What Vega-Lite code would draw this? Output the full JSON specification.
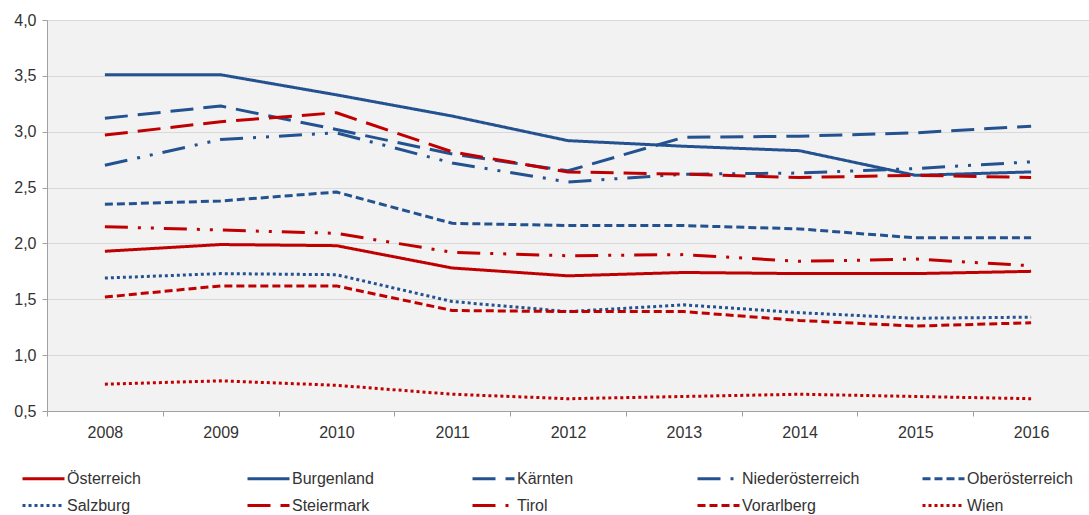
{
  "$schema": "https://vega.github.io/schema/vega-lite/v6.json",
  "width": 1042,
  "height": 391,
  "autosize": {"type": "none"},
  "padding": {"left": 47, "top": 20, "right": 0, "bottom": 104},
  "background": "white",
  "config": {
    "font": "Liberation Sans",
    "view": {"fill": "#F2F2F2", "stroke": null},
    "legend": {
      "orient": "none",
      "legendX": -12,
      "legendY": 450,
      "direction": "horizontal",
      "columns": 5,
      "gridAlign": "all",
      "columnPadding": 56,
      "rowPadding": 10,
      "symbolType": "M-3,0H3",
      "symbolSize": 196,
      "symbolStrokeWidth": 3,
      "labelFontSize": 16,
      "labelColor": "#333333",
      "labelOffset": 15,
      "labelFont": "Liberation Sans"
    }
  },
  "data": {
    "values": [
      {"Jahr": "2008", "Region": "Österreich", "Wert": 1.93},
      {"Jahr": "2009", "Region": "Österreich", "Wert": 1.99},
      {"Jahr": "2010", "Region": "Österreich", "Wert": 1.98},
      {"Jahr": "2011", "Region": "Österreich", "Wert": 1.78},
      {"Jahr": "2012", "Region": "Österreich", "Wert": 1.71},
      {"Jahr": "2013", "Region": "Österreich", "Wert": 1.74},
      {"Jahr": "2014", "Region": "Österreich", "Wert": 1.73},
      {"Jahr": "2015", "Region": "Österreich", "Wert": 1.73},
      {"Jahr": "2016", "Region": "Österreich", "Wert": 1.75},
      {"Jahr": "2008", "Region": "Burgenland", "Wert": 3.51},
      {"Jahr": "2009", "Region": "Burgenland", "Wert": 3.51},
      {"Jahr": "2010", "Region": "Burgenland", "Wert": 3.33},
      {"Jahr": "2011", "Region": "Burgenland", "Wert": 3.14},
      {"Jahr": "2012", "Region": "Burgenland", "Wert": 2.92},
      {"Jahr": "2013", "Region": "Burgenland", "Wert": 2.87},
      {"Jahr": "2014", "Region": "Burgenland", "Wert": 2.83},
      {"Jahr": "2015", "Region": "Burgenland", "Wert": 2.61},
      {"Jahr": "2016", "Region": "Burgenland", "Wert": 2.64},
      {"Jahr": "2008", "Region": "Kärnten", "Wert": 3.12},
      {"Jahr": "2009", "Region": "Kärnten", "Wert": 3.23},
      {"Jahr": "2010", "Region": "Kärnten", "Wert": 3.02},
      {"Jahr": "2011", "Region": "Kärnten", "Wert": 2.8},
      {"Jahr": "2012", "Region": "Kärnten", "Wert": 2.65},
      {"Jahr": "2013", "Region": "Kärnten", "Wert": 2.95},
      {"Jahr": "2014", "Region": "Kärnten", "Wert": 2.96},
      {"Jahr": "2015", "Region": "Kärnten", "Wert": 2.99},
      {"Jahr": "2016", "Region": "Kärnten", "Wert": 3.05},
      {"Jahr": "2008", "Region": "Niederösterreich", "Wert": 2.7},
      {"Jahr": "2009", "Region": "Niederösterreich", "Wert": 2.93},
      {"Jahr": "2010", "Region": "Niederösterreich", "Wert": 2.99},
      {"Jahr": "2011", "Region": "Niederösterreich", "Wert": 2.72},
      {"Jahr": "2012", "Region": "Niederösterreich", "Wert": 2.55},
      {"Jahr": "2013", "Region": "Niederösterreich", "Wert": 2.62},
      {"Jahr": "2014", "Region": "Niederösterreich", "Wert": 2.63},
      {"Jahr": "2015", "Region": "Niederösterreich", "Wert": 2.67},
      {"Jahr": "2016", "Region": "Niederösterreich", "Wert": 2.73},
      {"Jahr": "2008", "Region": "Oberösterreich", "Wert": 2.35},
      {"Jahr": "2009", "Region": "Oberösterreich", "Wert": 2.38},
      {"Jahr": "2010", "Region": "Oberösterreich", "Wert": 2.46},
      {"Jahr": "2011", "Region": "Oberösterreich", "Wert": 2.18},
      {"Jahr": "2012", "Region": "Oberösterreich", "Wert": 2.16},
      {"Jahr": "2013", "Region": "Oberösterreich", "Wert": 2.16},
      {"Jahr": "2014", "Region": "Oberösterreich", "Wert": 2.13},
      {"Jahr": "2015", "Region": "Oberösterreich", "Wert": 2.05},
      {"Jahr": "2016", "Region": "Oberösterreich", "Wert": 2.05},
      {"Jahr": "2008", "Region": "Salzburg", "Wert": 1.69},
      {"Jahr": "2009", "Region": "Salzburg", "Wert": 1.73},
      {"Jahr": "2010", "Region": "Salzburg", "Wert": 1.72},
      {"Jahr": "2011", "Region": "Salzburg", "Wert": 1.48},
      {"Jahr": "2012", "Region": "Salzburg", "Wert": 1.39},
      {"Jahr": "2013", "Region": "Salzburg", "Wert": 1.45},
      {"Jahr": "2014", "Region": "Salzburg", "Wert": 1.38},
      {"Jahr": "2015", "Region": "Salzburg", "Wert": 1.33},
      {"Jahr": "2016", "Region": "Salzburg", "Wert": 1.34},
      {"Jahr": "2008", "Region": "Steiermark", "Wert": 2.97},
      {"Jahr": "2009", "Region": "Steiermark", "Wert": 3.09},
      {"Jahr": "2010", "Region": "Steiermark", "Wert": 3.17},
      {"Jahr": "2011", "Region": "Steiermark", "Wert": 2.82},
      {"Jahr": "2012", "Region": "Steiermark", "Wert": 2.64},
      {"Jahr": "2013", "Region": "Steiermark", "Wert": 2.62},
      {"Jahr": "2014", "Region": "Steiermark", "Wert": 2.59},
      {"Jahr": "2015", "Region": "Steiermark", "Wert": 2.61},
      {"Jahr": "2016", "Region": "Steiermark", "Wert": 2.59},
      {"Jahr": "2008", "Region": "Tirol", "Wert": 2.15},
      {"Jahr": "2009", "Region": "Tirol", "Wert": 2.12},
      {"Jahr": "2010", "Region": "Tirol", "Wert": 2.09},
      {"Jahr": "2011", "Region": "Tirol", "Wert": 1.92},
      {"Jahr": "2012", "Region": "Tirol", "Wert": 1.89},
      {"Jahr": "2013", "Region": "Tirol", "Wert": 1.9},
      {"Jahr": "2014", "Region": "Tirol", "Wert": 1.84},
      {"Jahr": "2015", "Region": "Tirol", "Wert": 1.86},
      {"Jahr": "2016", "Region": "Tirol", "Wert": 1.8},
      {"Jahr": "2008", "Region": "Vorarlberg", "Wert": 1.52},
      {"Jahr": "2009", "Region": "Vorarlberg", "Wert": 1.62},
      {"Jahr": "2010", "Region": "Vorarlberg", "Wert": 1.62},
      {"Jahr": "2011", "Region": "Vorarlberg", "Wert": 1.4},
      {"Jahr": "2012", "Region": "Vorarlberg", "Wert": 1.39},
      {"Jahr": "2013", "Region": "Vorarlberg", "Wert": 1.39},
      {"Jahr": "2014", "Region": "Vorarlberg", "Wert": 1.31},
      {"Jahr": "2015", "Region": "Vorarlberg", "Wert": 1.26},
      {"Jahr": "2016", "Region": "Vorarlberg", "Wert": 1.29},
      {"Jahr": "2008", "Region": "Wien", "Wert": 0.74},
      {"Jahr": "2009", "Region": "Wien", "Wert": 0.77},
      {"Jahr": "2010", "Region": "Wien", "Wert": 0.73},
      {"Jahr": "2011", "Region": "Wien", "Wert": 0.65},
      {"Jahr": "2012", "Region": "Wien", "Wert": 0.61},
      {"Jahr": "2013", "Region": "Wien", "Wert": 0.63},
      {"Jahr": "2014", "Region": "Wien", "Wert": 0.65},
      {"Jahr": "2015", "Region": "Wien", "Wert": 0.63},
      {"Jahr": "2016", "Region": "Wien", "Wert": 0.61}
    ]
  },
  "mark": {"type": "line", "strokeWidth": 3, "interpolate": "linear", "strokeCap": "butt", "strokeJoin": "round"},
  "encoding": {
    "x": {
      "field": "Jahr",
      "type": "ordinal",
      "bandPosition": 0.5,
      "scale": {"type": "band", "paddingInner": 0, "paddingOuter": 0},
      "axis": {
        "title": null,
        "labelAngle": 0,
        "tickBand": "extent",
        "grid": false,
        "domainColor": "#A0A0A0",
        "tickColor": "#A0A0A0",
        "tickSize": 5,
        "labelPadding": 8,
        "labelFontSize": 16,
        "labelColor": "#333333"
      }
    },
    "y": {
      "field": "Wert",
      "type": "quantitative",
      "scale": {"domain": [0.5, 4.0], "nice": false, "zero": false},
      "axis": {
        "title": null,
        "values": [0.5, 1, 1.5, 2, 2.5, 3, 3.5, 4],
        "labelExpr": "replace(format(datum.value, '.1f'), '.', ',')",
        "grid": true,
        "gridColor": "#D9D9D9",
        "gridWidth": 1,
        "domainColor": "#A0A0A0",
        "tickColor": "#A0A0A0",
        "tickSize": 5,
        "labelPadding": 6,
        "labelFontSize": 16,
        "labelColor": "#333333"
      }
    },
    "color": {
      "field": "Region",
      "type": "nominal",
      "scale": {
        "domain": ["Österreich", "Burgenland", "Kärnten", "Niederösterreich", "Oberösterreich", "Salzburg", "Steiermark", "Tirol", "Vorarlberg", "Wien"],
        "range": ["#C00000", "#245290", "#245290", "#245290", "#245290", "#245290", "#C00000", "#C00000", "#C00000", "#C00000"]
      },
      "legend": {"title": null}
    },
    "strokeDash": {
      "field": "Region",
      "type": "nominal",
      "scale": {
        "domain": ["Österreich", "Burgenland", "Kärnten", "Niederösterreich", "Oberösterreich", "Salzburg", "Steiermark", "Tirol", "Vorarlberg", "Wien"],
        "range": [[1, 0], [1, 0], [23, 10], [23, 10, 3, 10, 3, 10], [8, 4], [3, 3], [23, 10], [23, 10, 3, 10, 3, 10], [8, 4], [3, 3]]
      },
      "legend": {"title": null}
    }
  }
}
